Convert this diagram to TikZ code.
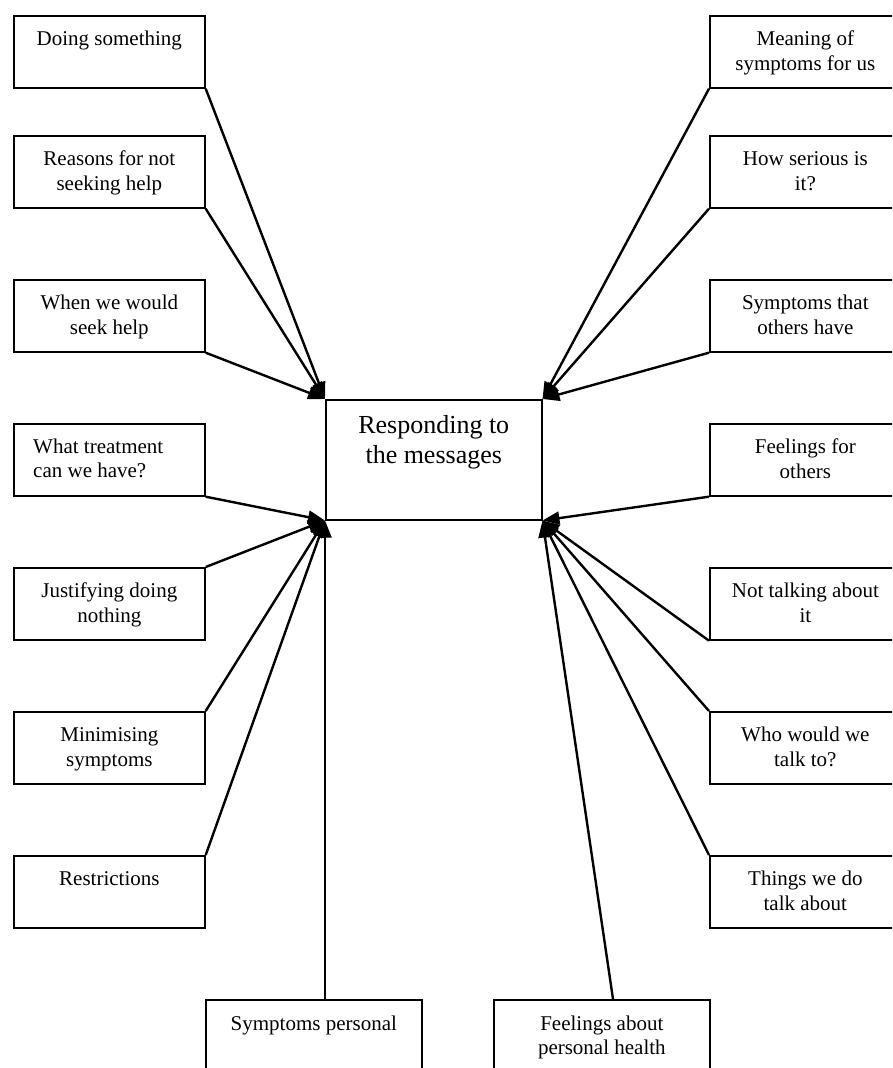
\documentclass[tikz,border=0pt]{standalone}
\usepackage{fontspec}
\setmainfont{Liberation Serif}
\usetikzlibrary{arrows.meta}
\begin{document}
\begin{tikzpicture}[x=1pt,y=-1pt,
  box/.style={draw, line width=1.7pt, minimum width=191pt, minimum height=72pt, inner sep=0pt, anchor=north west},
  widebox/.style={box, minimum width=216pt},
  centrebox/.style={draw, line width=1.5pt, minimum width=216pt, minimum height=120pt, inner sep=0pt, anchor=north west},
  txt/.style={font=\fontsize{21}{24.5}\selectfont, inner sep=0pt, anchor=base},
  bigtxt/.style={font=\fontsize{26}{30.5}\selectfont, inner sep=0pt, anchor=base},
  conn/.style={line width=2.4pt, -{Triangle[length=17pt,width=13pt]}},
]
\useasboundingbox[fill=white] (0,0) rectangle (892,1068);
\clip (0,0) rectangle (892,1068);

% central box
\node[centrebox] (c) at (325,399) {};
\node[bigtxt] (ct) at ([yshift=-34.3pt]c.north) {\parbox[t]{210pt}{\centering Responding to\\the messages}};

% left boxes
\node[box] (l1) at (13,15) {};
\node[box] (l2) at (13,135) {};
\node[box] (l3) at (13,279) {};
\node[box] (l4) at (13,423) {};
\node[box] (l5) at (13,567) {};
\node[box] (l6) at (13,711) {};
\node[box] (l7) at (13,855) {};
\node[txt] (l1t) at ([yshift=-30.7pt]l1.north) {\parbox[t]{185pt}{\centering Doing something}};
\node[txt] (l2t) at ([yshift=-30.7pt]l2.north) {\parbox[t]{185pt}{\centering Reasons for not\\seeking help}};
\node[txt] (l3t) at ([yshift=-30.7pt]l3.north) {\parbox[t]{185pt}{\centering When we would\\seek help}};
\node[txt, anchor=base west] (l4t) at ([xshift=20pt,yshift=-30.3pt]l4.north west) {\parbox[t]{170pt}{\raggedright What treatment\\can we have?}};
\node[txt] (l5t) at ([yshift=-30.7pt]l5.north) {\parbox[t]{185pt}{\centering Justifying doing\\nothing}};
\node[txt] (l6t) at ([yshift=-30.7pt]l6.north) {\parbox[t]{185pt}{\centering Minimising\\symptoms}};
\node[txt] (l7t) at ([yshift=-30.7pt]l7.north) {\parbox[t]{185pt}{\centering Restrictions}};

% right boxes
\node[box] (r1) at (709,15) {};
\node[box] (r2) at (709,135) {};
\node[box] (r3) at (709,279) {};
\node[box] (r4) at (709,423) {};
\node[box] (r5) at (709,567) {};
\node[box] (r6) at (709,711) {};
\node[box] (r7) at (709,855) {};
\node[txt] (r1t) at ([yshift=-30.7pt]r1.north) {\parbox[t]{185pt}{\centering Meaning of\\symptoms for us}};
\node[txt] (r2t) at ([yshift=-30.7pt]r2.north) {\parbox[t]{185pt}{\centering How serious is\\it?}};
\node[txt] (r3t) at ([yshift=-30.7pt]r3.north) {\parbox[t]{185pt}{\centering Symptoms that\\others have}};
\node[txt] (r4t) at ([yshift=-30.7pt]r4.north) {\parbox[t]{185pt}{\centering Feelings for\\others}};
\node[txt] (r5t) at ([yshift=-30.7pt]r5.north) {\parbox[t]{185pt}{\centering Not talking about\\it}};
\node[txt] (r6t) at ([yshift=-30.7pt]r6.north) {\parbox[t]{185pt}{\centering Who would we\\talk to?}};
\node[txt] (r7t) at ([yshift=-30.7pt]r7.north) {\parbox[t]{185pt}{\centering Things we do\\talk about}};

% bottom boxes
\node[widebox] (b1) at (205,999) {};
\node[widebox] (b2) at (493,999) {};
\node[txt] (b1t) at ([yshift=-31pt]b1.north) {\parbox[t]{210pt}{\centering Symptoms personal}};
\node[txt] (b2t) at ([yshift=-31pt]b2.north) {\parbox[t]{210pt}{\centering Feelings about\\personal health}};

% connectors, left
\draw[conn] (l1.south east) -- (c.north west);
\draw[conn] (l2.south east) -- (c.north west);
\draw[conn] (l3.south east) -- (c.north west);
\draw[conn] (l4.south east) -- (c.south west);
\draw[conn] (l5.north east) -- (c.south west);
\draw[conn] (l6.north east) -- (c.south west);
\draw[conn] (l7.north east) -- (c.south west);
% connectors, right
\draw[conn] (r1.south west) -- (c.north east);
\draw[conn] (r2.south west) -- (c.north east);
\draw[conn] (r3.south west) -- (c.north east);
\draw[conn] (r4.south west) -- (c.south east);
\draw[conn] (r5.south west) -- (c.south east);
\draw[conn] (r6.north west) -- (c.south east);
\draw[conn] (r7.north west) -- (c.south east);
% connectors, bottom
\draw[conn] (c.south west |- b1.north) -- (c.south west);
\draw[conn] ([xshift=120pt]b2.north west) -- (c.south east);
\end{tikzpicture}
\end{document}
